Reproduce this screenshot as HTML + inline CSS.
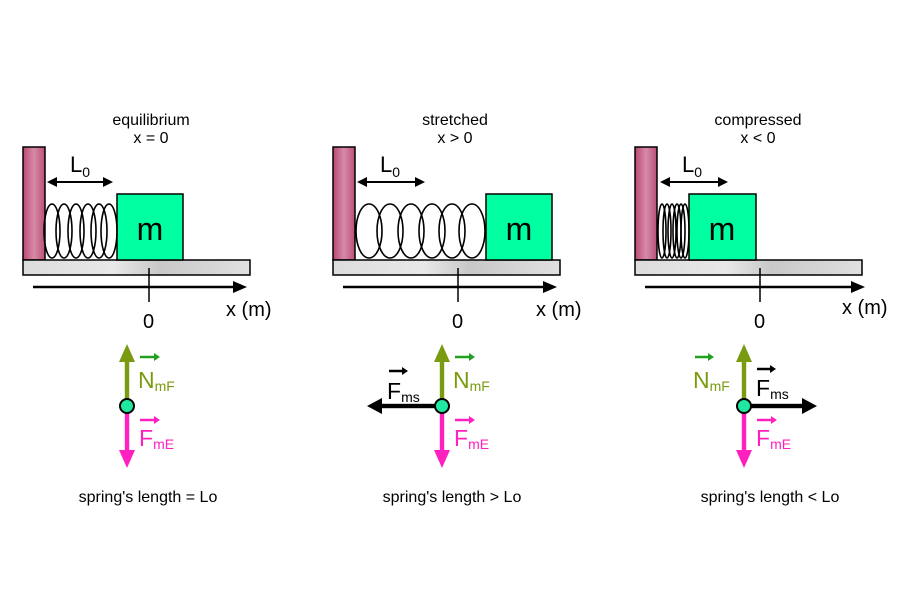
<!DOCTYPE html>
<html><head><meta charset="utf-8"><style>
html,body{margin:0;padding:0;background:#fff;}
svg{display:block;font-family:"Liberation Sans",Arial,sans-serif;}
</style></head><body>
<svg width="900" height="600" viewBox="0 0 900 600" xmlns="http://www.w3.org/2000/svg">
<defs>
<linearGradient id="wall" x1="0" y1="0" x2="1" y2="0">
<stop offset="0" stop-color="#b84a72"/><stop offset="0.5" stop-color="#d88aa8"/><stop offset="1" stop-color="#b85078"/>
</linearGradient>
<linearGradient id="floor" x1="0" y1="0" x2="1" y2="0">
<stop offset="0" stop-color="#dcdcdc"/><stop offset="0.4" stop-color="#e8e8e8"/><stop offset="0.6" stop-color="#c8c8c8"/><stop offset="1" stop-color="#e0e0e0"/>
</linearGradient>
<g id="ax"><polygon points="0,-6 14,0 0,6" fill="#000"/></g>
</defs>

<g font-size="16" text-anchor="middle" fill="#000">
<text x="151" y="125">equilibrium</text><text x="151" y="143">x = 0</text>
<text x="455" y="125">stretched</text><text x="455" y="143">x &gt; 0</text>
<text x="758" y="125">compressed</text><text x="758" y="143">x &lt; 0</text>
</g>

<g stroke="#000" stroke-width="1.5">
<rect x="23" y="147" width="22" height="113" fill="url(#wall)"/>
<rect x="23" y="260" width="227" height="15" fill="url(#floor)"/>
<rect x="117" y="194" width="66" height="66" fill="#00ffa0"/>
<rect x="333" y="147" width="22" height="113" fill="url(#wall)"/>
<rect x="333" y="260" width="227" height="15" fill="url(#floor)"/>
<rect x="486" y="194" width="66" height="66" fill="#00ffa0"/>
<rect x="635" y="147" width="22" height="113" fill="url(#wall)"/>
<rect x="635" y="260" width="227" height="15" fill="url(#floor)"/>
<rect x="689" y="194" width="67" height="66" fill="#00ffa0"/>
</g>
<g font-size="32" text-anchor="middle">
<text x="150" y="240">m</text><text x="519" y="240">m</text><text x="722" y="240">m</text>
</g>

<g fill="none" stroke="#000" stroke-width="1.6">
<ellipse cx="52" cy="231" rx="8" ry="27"/><ellipse cx="64" cy="231" rx="8" ry="27"/><ellipse cx="76" cy="231" rx="8" ry="27"/><ellipse cx="88" cy="231" rx="8" ry="27"/><ellipse cx="99" cy="231" rx="8" ry="27"/><ellipse cx="109" cy="231" rx="8" ry="27"/>
<ellipse cx="369" cy="231" rx="13" ry="27"/><ellipse cx="390" cy="231" rx="13" ry="27"/><ellipse cx="411" cy="231" rx="13" ry="27"/><ellipse cx="432" cy="231" rx="13" ry="27"/><ellipse cx="452" cy="231" rx="13" ry="27"/><ellipse cx="472" cy="231" rx="13" ry="27"/>
<ellipse cx="662" cy="231" rx="4" ry="27"/><ellipse cx="667" cy="231" rx="4" ry="27"/><ellipse cx="672" cy="231" rx="4" ry="27"/><ellipse cx="677" cy="231" rx="4" ry="27"/><ellipse cx="681" cy="231" rx="4" ry="27"/><ellipse cx="685" cy="231" rx="4" ry="27"/>
</g>

<g stroke="#000" stroke-width="2">
<line x1="55" y1="182" x2="105" y2="182"/><line x1="365" y1="182" x2="417" y2="182"/><line x1="668" y1="182" x2="720" y2="182"/>
</g>
<g fill="#000">
<polygon points="47,182 57,177 57,187"/><polygon points="113,182 103,177 103,187"/>
<polygon points="357,182 367,177 367,187"/><polygon points="425,182 415,177 415,187"/>
<polygon points="660,182 670,177 670,187"/><polygon points="728,182 718,177 718,187"/>
</g>
<g font-size="22"><text x="70" y="172">L<tspan font-size="14" dy="5">0</tspan></text>
<text x="380" y="172">L<tspan font-size="14" dy="5">0</tspan></text>
<text x="682" y="172">L<tspan font-size="14" dy="5">0</tspan></text></g>

<g stroke="#000" stroke-width="2.5"><line x1="33" y1="287" x2="234" y2="287"/><line x1="343" y1="287" x2="544" y2="287"/><line x1="645" y1="287" x2="852" y2="287"/></g>
<g stroke="#000" stroke-width="1.5"><line x1="149" y1="268" x2="149" y2="302"/><line x1="458" y1="268" x2="458" y2="302"/><line x1="760" y1="268" x2="760" y2="302"/></g>
<use href="#ax" x="233" y="287"/><use href="#ax" x="543" y="287"/><use href="#ax" x="851" y="287"/>
<g font-size="20"><text x="143" y="328">0</text><text x="452" y="328">0</text><text x="754" y="328">0</text>
<text x="226" y="316">x (m)</text><text x="536" y="316">x (m)</text><text x="842" y="314">x (m)</text></g>

<g id="f1" transform="translate(127,406)">
<rect x="-2.2" y="-48" width="4.4" height="44" fill="#7a9a10"/><polygon points="-8,-44 0,-62 8,-44" fill="#7a9a10"/>
<rect x="-2.2" y="4" width="4.4" height="44" fill="#ff20c0"/><polygon points="-8,44 0,62 8,44" fill="#ff20c0"/>
<circle r="7" fill="#20e8a0" stroke="#000" stroke-width="2"/>
</g>
<use href="#f1" x="315" y="0"/><use href="#f1" x="617" y="0"/>
<g font-size="23">
<g transform="translate(127,406)">
<text x="11" y="-18" fill="#7a9a10">N<tspan font-size="14" dy="3">mF</tspan></text>
<line x1="13" y1="-49" x2="27" y2="-49" stroke="#22a022" stroke-width="2.5"/><polygon points="27,-53 33,-49 27,-45" fill="#22a022"/>
<text x="12" y="40" fill="#ff20c0">F<tspan font-size="14" dy="3">mE</tspan></text>
<line x1="13" y1="14" x2="27" y2="14" stroke="#ff20c0" stroke-width="2.5"/><polygon points="27,10 33,14 27,18" fill="#ff20c0"/>
</g>
<g transform="translate(442,406)">
<text x="11" y="-18" fill="#7a9a10">N<tspan font-size="14" dy="3">mF</tspan></text>
<line x1="13" y1="-49" x2="27" y2="-49" stroke="#22a022" stroke-width="2.5"/><polygon points="27,-53 33,-49 27,-45" fill="#22a022"/>
<text x="12" y="40" fill="#ff20c0">F<tspan font-size="14" dy="3">mE</tspan></text>
<line x1="13" y1="14" x2="27" y2="14" stroke="#ff20c0" stroke-width="2.5"/><polygon points="27,10 33,14 27,18" fill="#ff20c0"/>
<rect x="-62" y="-2.2" width="55" height="4.4" fill="#000"/><polygon points="-60,-8 -75,0 -60,8" fill="#000"/>
<text x="-55" y="-7" fill="#000">F<tspan font-size="14" dy="3">ms</tspan></text>
<line x1="-53" y1="-35" x2="-40" y2="-35" stroke="#000" stroke-width="2.5"/><polygon points="-40,-39 -34,-35 -40,-31" fill="#000"/>
</g>
<g transform="translate(744,406)">
<text x="-51" y="-18" fill="#7a9a10">N<tspan font-size="14" dy="3">mF</tspan></text>
<line x1="-49" y1="-49" x2="-36" y2="-49" stroke="#22a022" stroke-width="2.5"/><polygon points="-36,-53 -30,-49 -36,-45" fill="#22a022"/>
<text x="12" y="40" fill="#ff20c0">F<tspan font-size="14" dy="3">mE</tspan></text>
<line x1="13" y1="14" x2="27" y2="14" stroke="#ff20c0" stroke-width="2.5"/><polygon points="27,10 33,14 27,18" fill="#ff20c0"/>
<rect x="7" y="-2.2" width="53" height="4.4" fill="#000"/><polygon points="58,-8 73,0 58,8" fill="#000"/>
<text x="12" y="-10" fill="#000">F<tspan font-size="14" dy="3">ms</tspan></text>
<line x1="13" y1="-37" x2="26" y2="-37" stroke="#000" stroke-width="2.5"/><polygon points="26,-41 32,-37 26,-33" fill="#000"/>
</g>
</g>
<g font-size="16" text-anchor="middle">
<text x="148" y="502">spring's length = Lo</text>
<text x="452" y="502">spring's length &gt;  Lo</text>
<text x="770" y="502">spring's length &lt; Lo</text>
</g>
</svg>
</body></html>
